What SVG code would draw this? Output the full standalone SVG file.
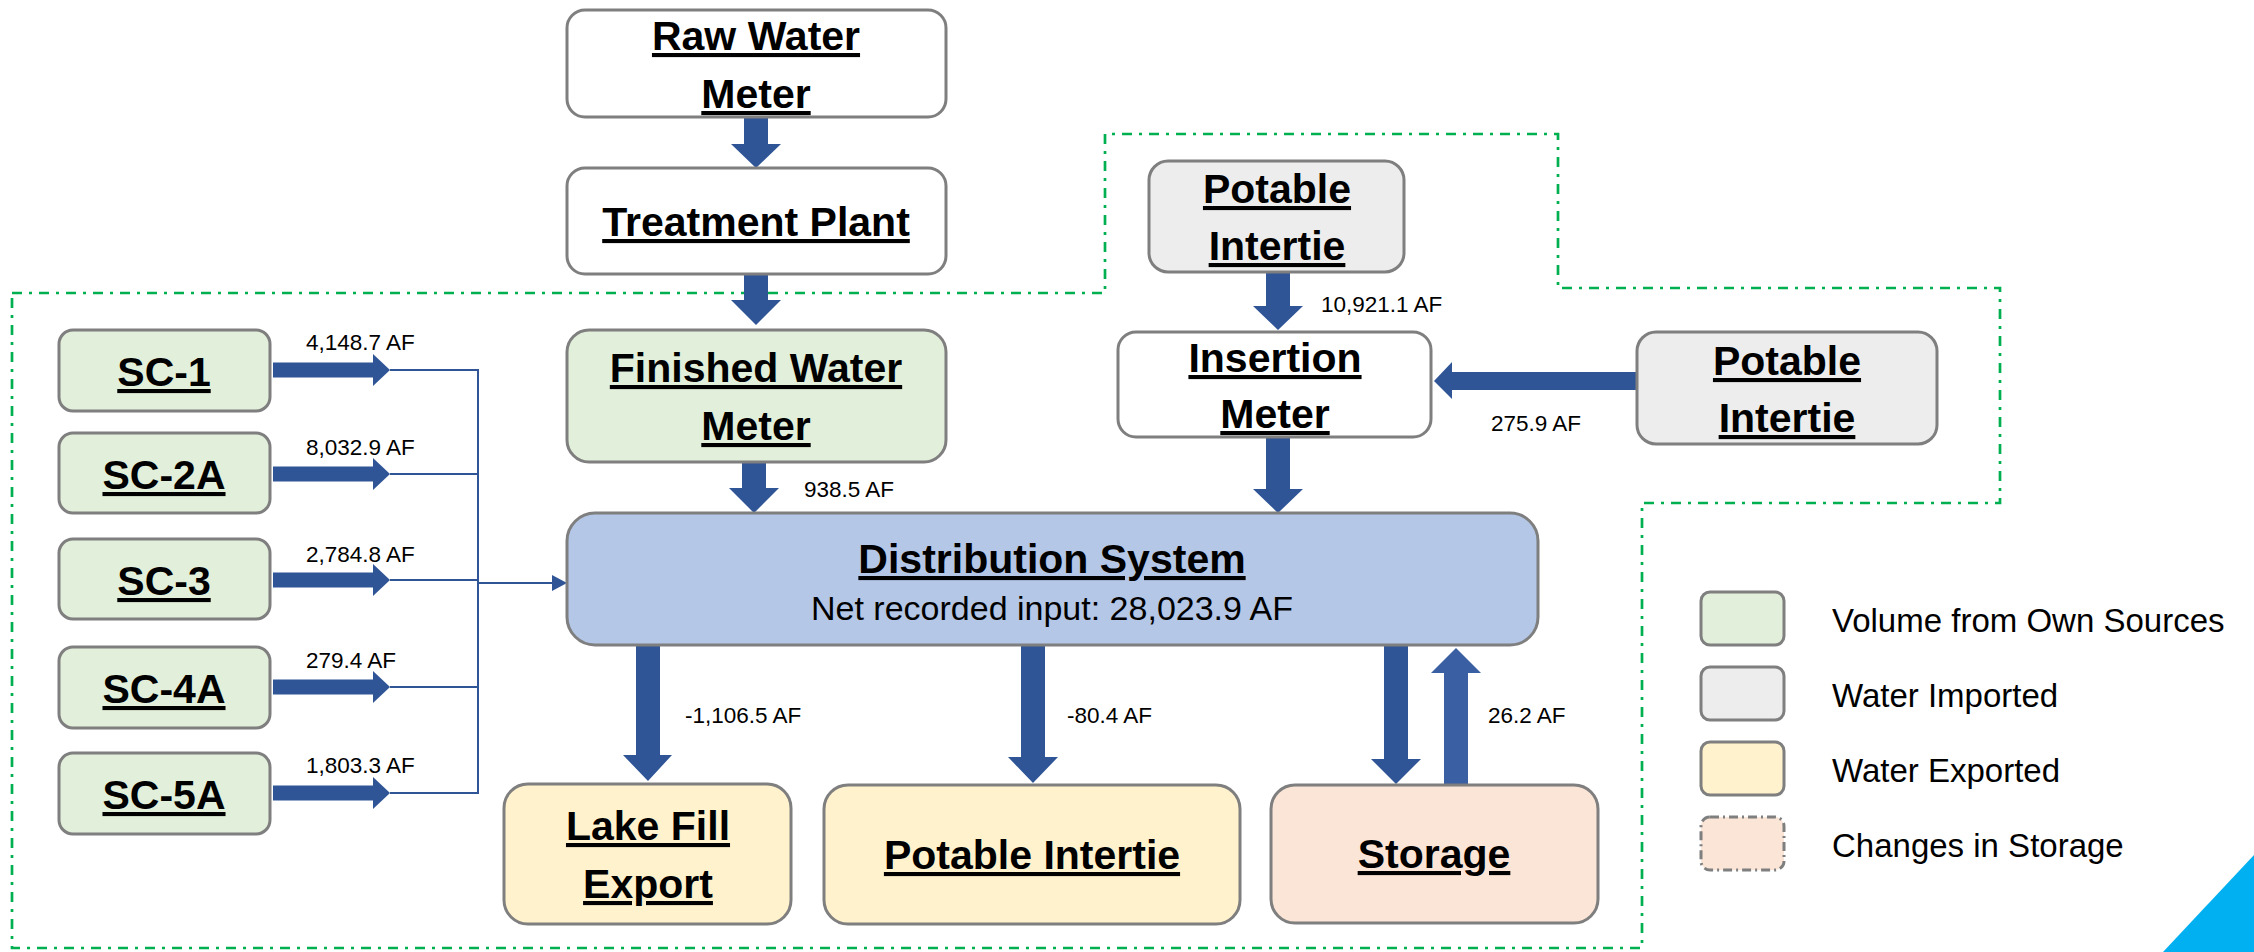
<svg xmlns="http://www.w3.org/2000/svg" width="2254" height="952" viewBox="0 0 2254 952">
  <style>
    .box { stroke: #7f7f7f; stroke-width: 3; }
    .white { fill: #ffffff; }
    .own { fill: #e2efda; }
    .imp { fill: #ededed; }
    .exp { fill: #fff2cc; }
    .sto { fill: #fbe5d6; }
    .dist { fill: #b4c7e7; }
    .title { font-family: "Liberation Sans", Arial, sans-serif; font-weight: bold; font-size: 41px; fill: #000; text-anchor: middle; text-decoration: underline; }
    .sub { font-family: "Liberation Sans", Arial, sans-serif; font-size: 34px; fill: #000; text-anchor: middle; }
    .lbl { font-family: "Liberation Sans", Arial, sans-serif; font-size: 22.5px; fill: #000; }
    .leg { font-family: "Liberation Sans", Arial, sans-serif; font-size: 33px; fill: #000; }
    .arrow { fill: #2f5597; }
    .arrow-up { fill: #3a5fa3; }
    .bus { fill: none; stroke: #2f5597; stroke-width: 2; }
    .zone { fill: none; stroke: #00b050; stroke-width: 2.7; stroke-dasharray: 10 7 3 7; }
  </style>

  <!-- system boundary -->
  <path class="zone" d="M 12 293 L 1105 293 L 1105 134 L 1558 134 L 1558 288 L 2000 288 L 2000 503 L 1642 503 L 1642 948 L 12 948 Z"/>

  <!-- corner accent -->
  <polygon points="2254,855 2254,952 2163,952" fill="#00b0f0"/>

  <!-- connectors -->
  <g id="connectors">
    <!-- Raw Water Meter -> Treatment Plant -->
    <polygon class="arrow" points="744,117 768,117 768,144 781,144 756,168 731,144 744,144"/>
    <!-- Treatment Plant -> Finished Water Meter -->
    <polygon class="arrow" points="744,274 768,274 768,300 781,300 756,325 731,300 744,300"/>
    <!-- Finished Water Meter -> Distribution System -->
    <polygon class="arrow" points="742,462 766,462 766,488 779,488 754,513 729,488 742,488"/>
    <!-- Potable Intertie (top) -> Insertion Meter -->
    <polygon class="arrow" points="1266,272 1290,272 1290,306 1303,306 1278,330 1253,306 1266,306"/>
    <!-- Insertion Meter -> Distribution System -->
    <polygon class="arrow" points="1266,437 1290,437 1290,489 1303,489 1278,513 1253,489 1266,489"/>
    <!-- Potable Intertie (right) -> Insertion Meter -->
    <polygon class="arrow" points="1637,372 1452,372 1452,362 1434,381 1452,399 1452,390 1637,390"/>
    <!-- Distribution System -> Lake Fill Export -->
    <polygon class="arrow" points="636,645 660,645 660,755 672,755 648,781 623,755 636,755"/>
    <!-- Distribution System -> Potable Intertie (bottom) -->
    <polygon class="arrow" points="1021,645 1045,645 1045,757 1058,757 1033,783 1008,757 1021,757"/>
    <!-- Distribution System -> Storage -->
    <polygon class="arrow" points="1384,645 1408,645 1408,759 1421,759 1396,784 1371,759 1384,759"/>
    <!-- Storage -> Distribution System -->
    <polygon class="arrow-up" points="1444,785 1468,785 1468,673 1481,673 1456,648 1431,673 1444,673"/>

    <!-- source wells into collector -->
    <polygon class="arrow" points="273,362.5 373,362.5 373,354 390,370 373,386 373,377.5 273,377.5"/>
    <polygon class="arrow" points="273,466.5 373,466.5 373,458 390,474 373,490 373,481.5 273,481.5"/>
    <polygon class="arrow" points="273,572.5 373,572.5 373,564 390,580 373,596 373,587.5 273,587.5"/>
    <polygon class="arrow" points="273,679.5 373,679.5 373,671 390,687 373,703 373,694.5 273,694.5"/>
    <polygon class="arrow" points="273,785.5 373,785.5 373,777 390,793 373,809 373,800.5 273,800.5"/>
    <path class="bus" d="M 390 370 L 478 370 M 390 474 L 478 474 M 390 580 L 478 580 M 390 687 L 478 687 M 390 793 L 478 793 M 478 369 L 478 794 M 478 583 L 553 583"/>
    <polygon class="arrow" points="552,575 567,583 552,591"/>

    <!-- flow volumes -->
    <text class="lbl" x="306" y="350">4,148.7 AF</text>
    <text class="lbl" x="306" y="455">8,032.9 AF</text>
    <text class="lbl" x="306" y="562">2,784.8 AF</text>
    <text class="lbl" x="306" y="668">279.4 AF</text>
    <text class="lbl" x="306" y="773">1,803.3 AF</text>
    <text class="lbl" x="804" y="497">938.5 AF</text>
    <text class="lbl" x="1321" y="312">10,921.1 AF</text>
    <text class="lbl" x="1491" y="431">275.9 AF</text>
    <text class="lbl" x="685" y="723">-1,106.5 AF</text>
    <text class="lbl" x="1067" y="723">-80.4 AF</text>
    <text class="lbl" x="1488" y="723">26.2 AF</text>
  </g>

  <!-- nodes -->
  <g id="raw-water-meter">
    <rect class="box white" x="567" y="10" width="379" height="107" rx="18"/>
    <text class="title" x="756" y="50">Raw Water</text>
    <text class="title" x="756" y="108">Meter</text>
  </g>
  <g id="treatment-plant">
    <rect class="box white" x="567" y="168" width="379" height="106" rx="18"/>
    <text class="title" x="756" y="236">Treatment Plant</text>
  </g>
  <g id="finished-water-meter">
    <rect class="box own" x="567" y="330" width="379" height="132" rx="22"/>
    <text class="title" x="756" y="382">Finished Water</text>
    <text class="title" x="756" y="440">Meter</text>
  </g>
  <g id="potable-intertie-north">
    <rect class="box imp" x="1149" y="161" width="255" height="111" rx="19"/>
    <text class="title" x="1277" y="203">Potable</text>
    <text class="title" x="1277" y="260">Intertie</text>
  </g>
  <g id="insertion-meter">
    <rect class="box white" x="1118" y="332" width="313" height="105" rx="18"/>
    <text class="title" x="1275" y="372">Insertion</text>
    <text class="title" x="1275" y="428">Meter</text>
  </g>
  <g id="potable-intertie-east">
    <rect class="box imp" x="1637" y="332" width="300" height="112" rx="19"/>
    <text class="title" x="1787" y="375">Potable</text>
    <text class="title" x="1787" y="432">Intertie</text>
  </g>
  <g id="sc-1">
    <rect class="box own" x="59" y="330" width="211" height="81" rx="14"/>
    <text class="title" x="164" y="386">SC-1</text>
  </g>
  <g id="sc-2a">
    <rect class="box own" x="59" y="433" width="211" height="80" rx="14"/>
    <text class="title" x="164" y="489">SC-2A</text>
  </g>
  <g id="sc-3">
    <rect class="box own" x="59" y="539" width="211" height="80" rx="14"/>
    <text class="title" x="164" y="595">SC-3</text>
  </g>
  <g id="sc-4a">
    <rect class="box own" x="59" y="647" width="211" height="81" rx="14"/>
    <text class="title" x="164" y="703">SC-4A</text>
  </g>
  <g id="sc-5a">
    <rect class="box own" x="59" y="753" width="211" height="81" rx="14"/>
    <text class="title" x="164" y="809">SC-5A</text>
  </g>
  <g id="distribution-system">
    <rect class="box dist" x="567" y="513" width="971" height="132" rx="28"/>
    <text class="title" x="1052" y="573">Distribution System</text>
    <text class="sub" x="1052" y="620">Net recorded input: 28,023.9 AF</text>
  </g>
  <g id="lake-fill-export">
    <rect class="box exp" x="504" y="784" width="287" height="140" rx="24"/>
    <text class="title" x="648" y="840">Lake Fill</text>
    <text class="title" x="648" y="898">Export</text>
  </g>
  <g id="potable-intertie-south">
    <rect class="box exp" x="824" y="785" width="416" height="139" rx="24"/>
    <text class="title" x="1032" y="869">Potable Intertie</text>
  </g>
  <g id="storage">
    <rect class="box sto" x="1271" y="785" width="327" height="138" rx="24"/>
    <text class="title" x="1434" y="868">Storage</text>
  </g>

  <!-- legend -->
  <g id="legend">
    <rect class="box own" x="1701" y="592" width="83" height="53" rx="9"/>
    <text class="leg" x="1832" y="632">Volume from Own Sources</text>
    <rect class="box imp" x="1701" y="667" width="83" height="53" rx="9"/>
    <text class="leg" x="1832" y="707">Water Imported</text>
    <rect class="box exp" x="1701" y="742" width="83" height="53" rx="9"/>
    <text class="leg" x="1832" y="782">Water Exported</text>
    <rect class="box sto" x="1701" y="817" width="83" height="53" rx="9" stroke-dasharray="9 4 2 4"/>
    <text class="leg" x="1832" y="857">Changes in Storage</text>
  </g>
</svg>
